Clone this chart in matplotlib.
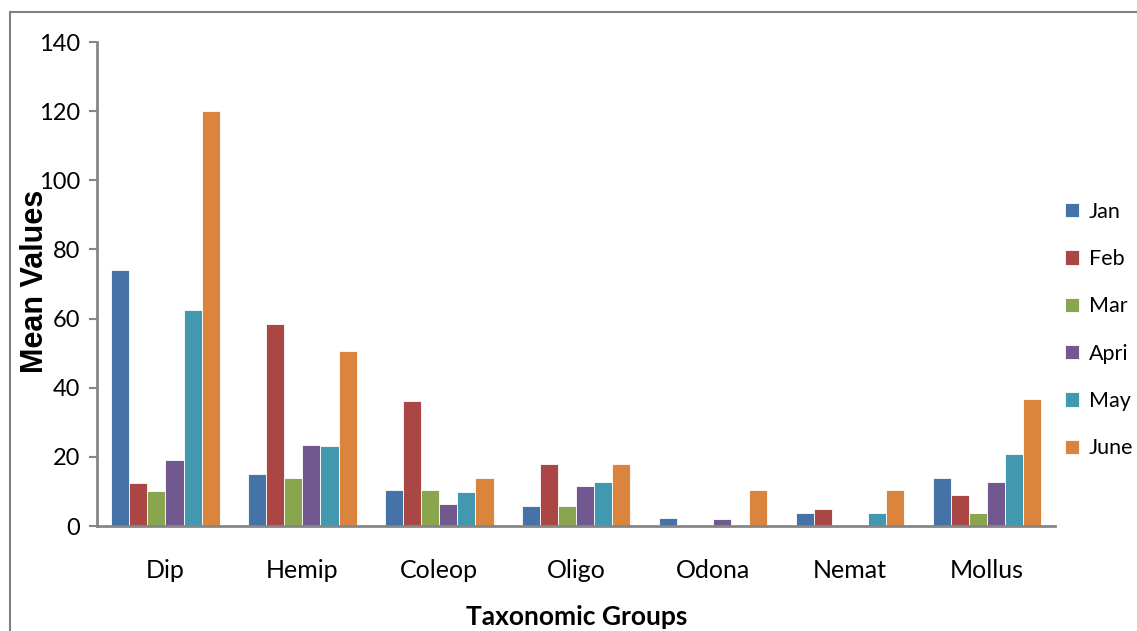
import numpy as np
import matplotlib.pyplot as plt
from matplotlib.patches import Rectangle

# Datos
grupos = ['Dip', 'Hemip', 'Coleop', 'Oligo', 'Odona', 'Nemat', 'Mollus']
meses = ['Jan', 'Feb', 'Mar', 'Apri', 'May', 'June']
jan = [74, 15, 10.4, 5.9, 2.4, 3.7, 13.9]
feb = [12.5, 58.5, 36.1, 17.8, 0, 4.8, 8.9]
mar = [10, 14, 10.4, 5.9, 0, 0, 3.7]
apri = [19, 23.5, 6.5, 11.6, 1.9, 0, 12.7]
may = [62.5, 23, 9.8, 12.7, 0, 3.7, 20.7]
june = [120, 50.5, 13.9, 17.8, 10.4, 10.4, 36.6]
series = [jan, feb, mar, apri, may, june]
colores = ['#4572a7', '#aa4643', '#89a54e', '#71588f', '#4198af', '#db843d']

fig = plt.figure(figsize=(11.37, 6.31), dpi=100)
ax = fig.add_axes([0.0853, 0.1664, 0.843, 0.767])

x = np.arange(len(grupos))
ancho = 0.132
for i, (valores, mes, color) in enumerate(zip(series, meses, colores)):
    ax.bar(x + (i - 2.5) * ancho, valores, width=ancho, color=color,
           edgecolor='white', linewidth=0.6, label=mes, zorder=2)

ax.set_xlim(-0.5, len(grupos) - 0.5)
ax.set_ylim(0, 140)
ax.set_yticks(range(0, 141, 20))
ax.set_xticks(x)
ax.set_xticklabels(grupos, fontsize=18, family='Lato')
ax.tick_params(axis='y', labelsize=17, direction='out', length=6, width=1.5,
               color='#868686', pad=6)
for lab in ax.get_yticklabels():
    lab.set_family('Lato')
ax.tick_params(axis='x', length=0, pad=24)

for lado in ['top', 'right']:
    ax.spines[lado].set_visible(False)
for lado in ['left', 'bottom']:
    ax.spines[lado].set_color('#868686')
    ax.spines[lado].set_linewidth(2)

ax.set_ylabel('Mean Values', fontsize=22, fontweight='bold',
              family='Liberation Sans')
ax.yaxis.set_label_coords(-0.049, 0.505)
ax.set_xlabel('Taxonomic Groups', fontsize=19, fontweight='bold',
              family='Lato', labelpad=16)

leg = ax.legend(loc='upper left', bbox_to_anchor=(0.99, 0.71), frameon=False,
                prop={'family': 'Lato', 'size': 15.5}, handlelength=0.65,
                handleheight=0.65, handletextpad=0.45, labelspacing=1.27)

# Borde gris de la figura
fig.patches.append(Rectangle((10 / 1137, -0.1), 1.2, 1.1 - 12 / 631,
                             transform=fig.transFigure, fill=False,
                             edgecolor='#7f7f7f', linewidth=1.5))

fig.savefig('out.png', dpi=100)
